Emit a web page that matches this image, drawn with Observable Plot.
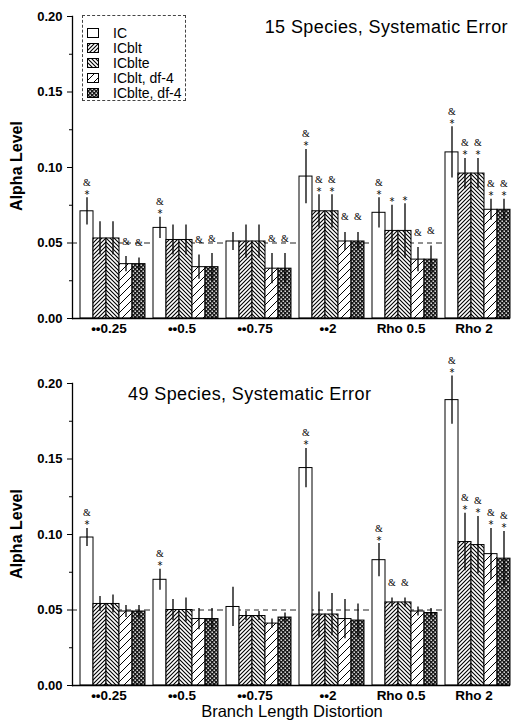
<!DOCTYPE html>
<html>
<head>
<meta charset="utf-8">
<script src="https://cdn.jsdelivr.net/npm/d3@7"></script>
<script src="https://cdn.jsdelivr.net/npm/@observablehq/plot@0.6"></script>
<style>
  html, body { margin: 0; padding: 0; background: white; }
  #wrap { position: relative; width: 516px; height: 720px; overflow: hidden; font-family: "Liberation Sans", Arial, sans-serif; color: black; }
  .abs { position: absolute; white-space: nowrap; line-height: 1; }
  .title { font-size: 18px; letter-spacing: 0.4px; }
  .ylab { font-size: 16px; font-weight: bold; transform: translate(-50%, -50%) rotate(-90deg); }
  .xlab { font-size: 16.5px; line-height: 14px; transform: translateX(-50%); }
  #legend { position: absolute; left: 82px; top: 15px; width: 104px; height: 86px; border: 1px dashed #444; box-sizing: border-box; }
  .lg { position: absolute; left: 4px; height: 12px; display: flex; align-items: center; font-size: 14px; }
  .lg svg { margin-right: 14px; }
</style>
</head>
<body>
<svg width="0" height="0" style="position:absolute">
  <defs>
    <pattern id="p-ic" patternUnits="userSpaceOnUse" width="4" height="4">
      <rect width="4" height="4" fill="white"/>
    </pattern>
    <pattern id="p-icblt" patternUnits="userSpaceOnUse" width="4" height="4">
      <rect width="4" height="4" fill="white"/>
      <path d="M-1,1 l2,-2 M0,4 l4,-4 M3,5 l2,-2" stroke="black" stroke-width="1.1"/>
    </pattern>
    <pattern id="p-icblte" patternUnits="userSpaceOnUse" width="4" height="4">
      <rect width="4" height="4" fill="white"/>
      <path d="M-1,3 l2,2 M0,0 l4,4 M3,-1 l2,2" stroke="black" stroke-width="1.1"/>
    </pattern>
    <pattern id="p-icblt4" patternUnits="userSpaceOnUse" width="8" height="8">
      <rect width="8" height="8" fill="white"/>
      <path d="M-2,2 l4,-4 M0,8 l8,-8 M6,10 l4,-4" stroke="black" stroke-width="1"/>
    </pattern>
    <pattern id="p-icblte4" patternUnits="userSpaceOnUse" width="4" height="4">
      <rect width="4" height="4" fill="#1a1a1a"/>
      <rect x="0.5" y="0.5" width="1.4" height="1.4" fill="white"/>
      <rect x="2.5" y="2.5" width="1.4" height="1.4" fill="white"/>
    </pattern>
  </defs>
</svg>
<div id="wrap">
  <div id="top" class="abs" style="left:0;top:0"></div>
  <div id="bottom" class="abs" style="left:0;top:345px"></div>
  <div class="abs title" style="right:8px;top:18px">15 Species, Systematic Error</div>
  <div class="abs title" style="left:128px;top:385px">49 Species, Systematic Error</div>
  <div class="abs ylab" style="left:17px;top:166px">Alpha Level</div>
  <div class="abs ylab" style="left:17px;top:534px">Alpha Level</div>
  <div class="abs xlab" style="left:292px;top:704px">Branch Length Distortion</div>
  <div id="legend"></div>
</div>
<script>
// ---- data ----
const groups = ["••0.25", "••0.5", "••0.75", "••2", "Rho 0.5", "Rho 2"];
const seriesNames = ["IC", "ICblt", "ICblte", "ICblt, df-4", "ICblte, df-4"];
const patternIds = ["p-ic", "p-icblt", "p-icblte", "p-icblt4", "p-icblte4"];
const yTicks = [0, 0.05, 0.10, 0.15, 0.20];
const yMinorTicks = [0.025, 0.075, 0.125, 0.175];
const nominalAlpha = 0.05;

// 15 species: rows = groups, columns = series
const value15 = [
  [0.071, 0.053, 0.053, 0.036, 0.036],
  [0.060, 0.052, 0.052, 0.034, 0.034],
  [0.051, 0.051, 0.051, 0.033, 0.033],
  [0.094, 0.071, 0.071, 0.051, 0.051],
  [0.070, 0.058, 0.058, 0.039, 0.039],
  [0.110, 0.096, 0.096, 0.072, 0.072]
];
const err15 = [
  [0.009, 0.011, 0.011, 0.005, 0.004],
  [0.007, 0.010, 0.010, 0.008, 0.009],
  [0.006, 0.011, 0.011, 0.010, 0.010],
  [0.018, 0.011, 0.011, 0.006, 0.006],
  [0.010, 0.017, 0.018, 0.008, 0.009],
  [0.017, 0.010, 0.010, 0.007, 0.007]
];
const sig15 = [
  ["&*", "", "", "&", "&"],
  ["&*", "", "", "&", "&"],
  ["", "", "", "&", "&"],
  ["&*", "&*", "&*", "&", "&"],
  ["&*", "*", "*", "&", "&"],
  ["&*", "&*", "&*", "&*", "&*"]
];

// 49 species
const value49 = [
  [0.098, 0.054, 0.054, 0.049, 0.049],
  [0.070, 0.050, 0.050, 0.044, 0.044],
  [0.052, 0.046, 0.046, 0.041, 0.045],
  [0.144, 0.047, 0.047, 0.044, 0.043],
  [0.083, 0.055, 0.055, 0.049, 0.048],
  [0.189, 0.095, 0.093, 0.087, 0.084]
];
const err49 = [
  [0.006, 0.005, 0.006, 0.004, 0.004],
  [0.007, 0.007, 0.008, 0.007, 0.007],
  [0.013, 0.003, 0.003, 0.003, 0.003],
  [0.013, 0.015, 0.014, 0.013, 0.011],
  [0.011, 0.003, 0.003, 0.003, 0.003],
  [0.016, 0.019, 0.019, 0.017, 0.018]
];
const sig49 = [
  ["&*", "", "", "", ""],
  ["&*", "", "", "", ""],
  ["", "", "", "", ""],
  ["&*", "", "", "", ""],
  ["&*", "&", "&", "", ""],
  ["&*", "&*", "&*", "&*", "&*"]
];

function chart(values, errors, sig, height, marginTop, marginBottom) {
  const rows = groups.flatMap((g, i) => seriesNames.map((s, j) => ({
    group: g, series: s, value: values[i][j], err: errors[i][j], sig: sig[i][j]
  })));
  const pos = {fx: "group", x: "series"};
  const top = d => d.value + d.err;
  return Plot.plot({
    width: 516, height, marginTop, marginBottom, marginLeft: 72, marginRight: 6,
    style: {fontFamily: "'Liberation Sans', Arial, sans-serif", fontSize: "13px", background: "white", color: "black", overflow: "visible"},
    fx: {domain: groups, padding: 0, label: null},
    x: {domain: seriesNames, padding: 0, insetLeft: 8, axis: null},
    y: {domain: [0, 0.2], label: null},
    color: {domain: seriesNames, range: patternIds.map(id => `url(#${id})`)},
    marks: [
      Plot.ruleY([nominalAlpha], {stroke: "#222", strokeWidth: 1, strokeDasharray: "5,4"}),
      Plot.barY(rows, {...pos, y: "value", fill: "series", stroke: "black", strokeWidth: 1}),
      Plot.ruleX(rows, {...pos, y1: d => d.value - d.err, y2: top, stroke: "black", strokeWidth: 1.3}),
      Plot.text(rows.filter(d => d.sig.includes("*")), {
        ...pos, y: top, text: () => "*", lineAnchor: "bottom", dy: 0,
        fill: "black", fontSize: 10, fontFamily: "'DejaVu Sans', sans-serif"
      }),
      Plot.text(rows.filter(d => d.sig.includes("&")), {
        ...pos, y: top, text: () => "&", lineAnchor: "bottom", dy: -12,
        fill: "black", fontSize: 10, fontFamily: "'Liberation Serif', serif"
      }),
      Plot.ruleY([0], {stroke: "black", strokeWidth: 1.3}),
      Plot.frame({anchor: "left", facetAnchor: "left", strokeWidth: 1.3}),
      Plot.axisY({ticks: yMinorTicks, tickSize: 3, tickFormat: () => "", label: null}),
      Plot.axisY({ticks: yTicks, tickSize: 5, tickPadding: 5, tickFormat: d3.format(".2f"), label: null, fontWeight: "bold", fontSize: 13}),
      Plot.axisFx({anchor: "bottom", tickSize: 0, tickPadding: 5, label: null, fontWeight: "bold", fontSize: 13.5})
    ]
  });
}

document.getElementById("top").appendChild(chart(value15, err15, sig15, 345, 16, 27));
document.getElementById("bottom").appendChild(chart(value49, err49, sig49, 375, 38, 35));

// legend
const legend = document.getElementById("legend");
seriesNames.forEach((s, i) => {
  const item = document.createElement("div");
  item.className = "lg";
  item.style.top = (11 + i * 15) + "px";
  item.innerHTML = `<svg width="12" height="10"><rect x="0.5" y="0.5" width="11" height="9" fill="url(#${patternIds[i]})" stroke="black" stroke-width="1"/></svg><span>${s}</span>`;
  legend.appendChild(item);
});
</script>
</body>
</html>
